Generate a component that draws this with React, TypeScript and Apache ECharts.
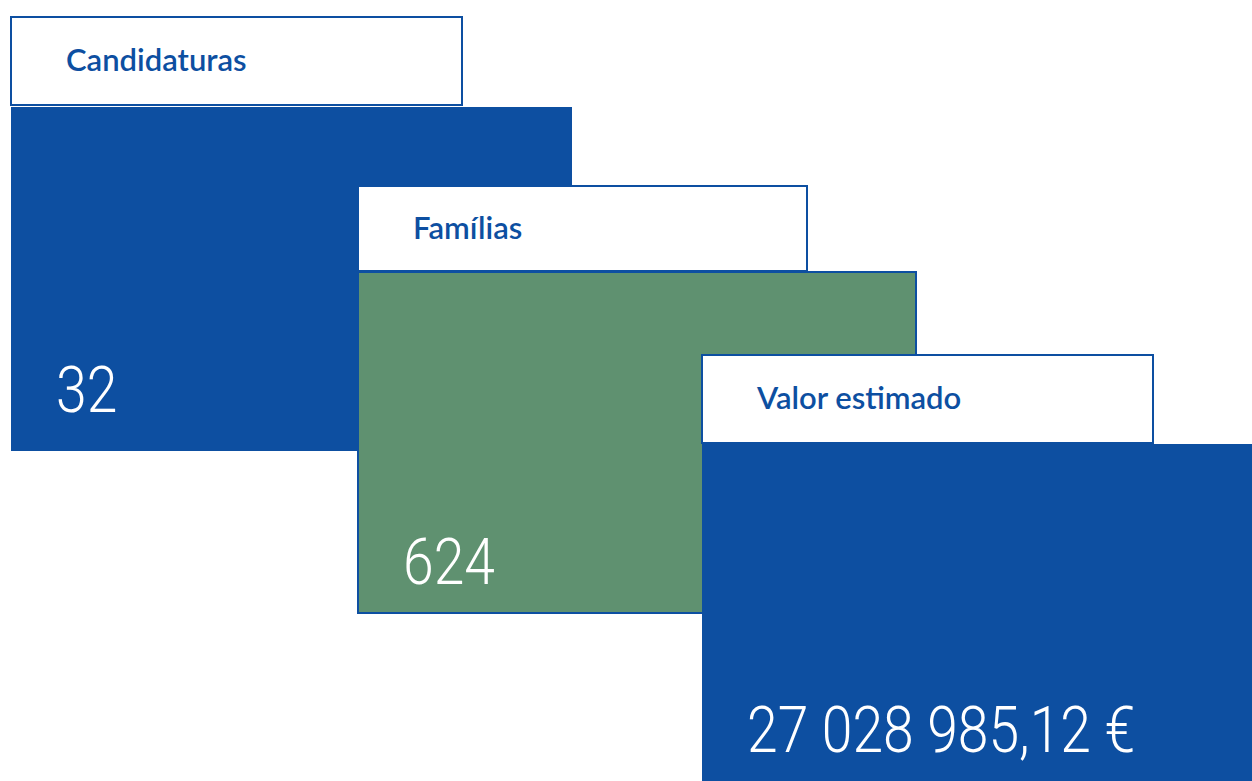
import React, { useEffect, useRef } from "react";
import * as echarts from "echarts";

const titles = ["Candidaturas", "Famílias", "Valor estimado"];
const values = ["32", "624", "27 028 985,12 €"];
const fills = ["#0d4fa1", "#5f9170", "#0d4fa1"];

const BLUE = "#0d4fa1";

// card layouts: header box and body box
const layout = [
  { hx: 11, hy: 17, hw: 451, hh: 88, bx: 11, by: 107, bw: 561, bh: 344, border: false, vy: 390 },
  { hx: 358, hy: 186, hw: 449, hh: 85, bx: 358, by: 272, bw: 558, bh: 341, border: true, vy: 562 },
  { hx: 702, hy: 355, hw: 451, hh: 88, bx: 702, by: 444, bw: 560, bh: 350, border: false, vy: 730 },
];

export default function App() {
  const ref = useRef<HTMLDivElement>(null);
  useEffect(() => {
    const chart = echarts.init(ref.current!, null, { renderer: "svg" });
    const elements: any[] = [];
    layout.forEach((l, i) => {
      elements.push({
        type: "rect",
        shape: { x: l.hx, y: l.hy, width: l.hw, height: l.hh },
        style: { fill: "#ffffff", stroke: BLUE, lineWidth: 2 },
      });
      elements.push({
        type: "text",
        x: l.hx + 55,
        y: l.hy + l.hh / 2 - 2,
        style: {
          text: titles[i],
          fill: BLUE,
          font: "600 31px Lato, 'Noto Sans', sans-serif",
          verticalAlign: "middle",
        },
      });
      elements.push({
        type: "rect",
        shape: { x: l.bx, y: l.by, width: l.bw, height: l.bh },
        style: { fill: fills[i], stroke: l.border ? BLUE : null, lineWidth: l.border ? 2 : 0 },
      });
      elements.push({
        type: "text",
        x: l.bx + 45,
        y: l.vy,
        scaleX: 0.85,
        style: {
          text: values[i],
          fill: "#ffffff",
          font: "300 65px Roboto, sans-serif",
          verticalAlign: "middle",
        },
      });
    });
    chart.setOption({
      animation: false,
      graphic: { elements },
    });
    return () => chart.dispose();
  }, []);
  return (
    <div
      ref={ref}
      style={{ position: "fixed", left: 0, top: 0, width: 1252, height: 781, background: "#fff" }}
    />
  );
}
